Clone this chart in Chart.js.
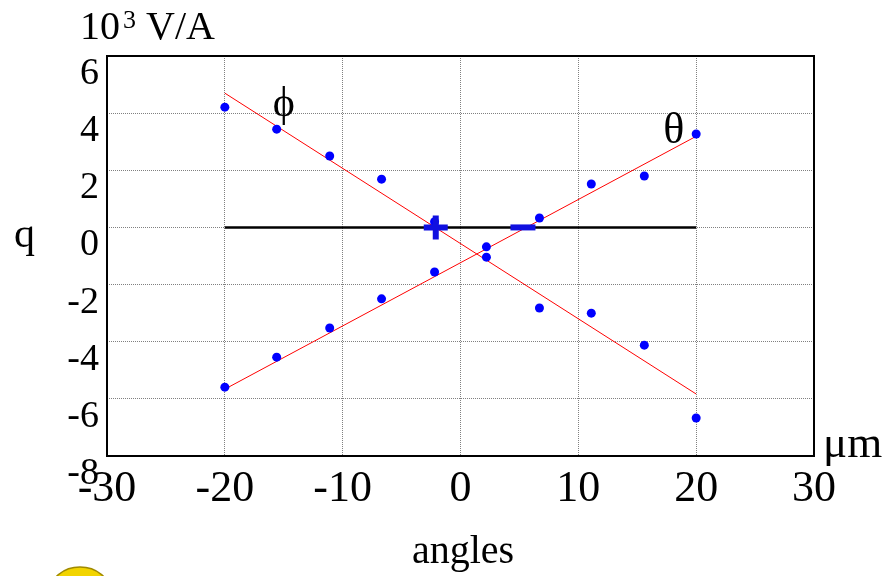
<!DOCTYPE html>
<html>
<head>
<meta charset="utf-8">
<script src="https://cdn.jsdelivr.net/npm/chart.js@4"></script>
<style>
  html, body { margin: 0; padding: 0; background: #fff; }
  #wrap { position: relative; width: 886px; height: 576px; }
</style>
</head>
<body>
<div id="wrap"><canvas id="myChart" width="886" height="576"></canvas></div>
<script>
// angle positions (um) and measured values (10^3 V/A)
const phiX = [-20, -15.6, -11.1, -6.7, -2.2, 2.2, 6.7, 11.1, 15.6, 20];
const phiY = [4.21, 3.44, 2.50, 1.69, 0.20, -1.04, -2.82, -3.00, -4.12, -6.67];
const thetaX = [-20, -15.6, -11.1, -6.7, -2.2, 2.2, 6.7, 11.1, 15.6, 20];
const thetaY = [-5.59, -4.54, -3.52, -2.50, -1.56, -0.68, 0.33, 1.52, 1.80, 3.27];

// straight-line fits, end points
const phiFitX = [-20, 20];
const phiFitY = [4.70, -5.83];
const thetaFitX = [-20, 20];
const thetaFitY = [-5.66, 3.19];

// zero reference line and the +/- markers
const zeroX = [-20, 20];
const plusX = -2.1;
const minusX = 5.3;

const xTicks = { min: -30, max: 30, step: 10 };
const yTicks = { min: -8, max: 6, step: 2 };

function pts(xs, ys) {
  return xs.map((x, i) => ({ x: x, y: ys[i] }));
}

const serif = '"Liberation Serif", "DejaVu Serif", serif';

const decorPlugin = {
  id: "decor",
  afterDraw(chart) {
    const ctx = chart.ctx;
    const a = chart.chartArea;
    const xs = chart.scales.x;
    const ys = chart.scales.y;
    ctx.save();
    // frame
    ctx.strokeStyle = "#000";
    ctx.lineWidth = 2;
    ctx.strokeRect(a.left, a.top, a.right - a.left, a.bottom - a.top);

    ctx.fillStyle = "#000";
    ctx.textBaseline = "alphabetic";
    ctx.textAlign = "left";
    // unit label top-left
    ctx.font = "40px " + serif;
    ctx.fillText("10", 80, 39);
    ctx.font = "26px " + serif;
    ctx.fillText("3", 123, 28);
    ctx.font = "40px " + serif;
    ctx.fillText("V/A", 146, 39);
    // y label
    ctx.font = "42px " + serif;
    ctx.fillText("q", 14, 247);
    // x unit
    ctx.font = "45px " + serif;
    ctx.fillText("\u03bcm", 823, 457);
    // x title
    ctx.textAlign = "center";
    ctx.font = "40px " + serif;
    ctx.fillText("angles", 463, 563);
    // series labels
    ctx.textBaseline = "middle";
    ctx.font = "42px " + serif;
    ctx.fillText("\u03d5", xs.getPixelForValue(-15.0), ys.getPixelForValue(4.3));
    ctx.font = "44px " + serif;
    ctx.fillText("\u03b8", xs.getPixelForValue(18.1), ys.getPixelForValue(3.35));

    // logo at bottom left
    ctx.beginPath();
    ctx.ellipse(80, 592, 30, 25, 0, 0, Math.PI * 2);
    ctx.fillStyle = "#f2d400";
    ctx.fill();
    ctx.strokeStyle = "#a08a00";
    ctx.lineWidth = 1.5;
    ctx.stroke();
    ctx.restore();
  }
};

const data = {
  datasets: [
    {
      label: "plus",
      data: [{ x: plusX, y: 0 }],
      pointStyle: "cross",
      pointRadius: 12,
      borderColor: "#1010e0",
      backgroundColor: "#1010e0",
      pointBorderWidth: 6,
      showLine: false
    },
    {
      label: "minus",
      data: [{ x: minusX, y: 0 }],
      pointStyle: "line",
      pointRadius: 12.5,
      borderColor: "#1010e0",
      backgroundColor: "#1010e0",
      pointBorderWidth: 6,
      showLine: false
    },
    {
      label: "phi",
      data: pts(phiX, phiY),
      pointRadius: 4.5,
      borderWidth: 0,
      backgroundColor: "#0000ff",
      borderColor: "#0000ff",
      showLine: false
    },
    {
      label: "theta",
      data: pts(thetaX, thetaY),
      pointRadius: 4.5,
      borderWidth: 0,
      backgroundColor: "#0000ff",
      borderColor: "#0000ff",
      showLine: false
    },
    {
      label: "phi fit",
      data: pts(phiFitX, phiFitY),
      showLine: true,
      pointRadius: 0,
      borderColor: "#ff0000",
      borderWidth: 1
    },
    {
      label: "theta fit",
      data: pts(thetaFitX, thetaFitY),
      showLine: true,
      pointRadius: 0,
      borderColor: "#ff0000",
      borderWidth: 1
    },
    {
      label: "zero",
      data: pts(zeroX, [0, 0]),
      showLine: true,
      pointRadius: 0,
      borderColor: "#000",
      borderWidth: 2.5
    }
  ]
};

const config = {
  type: "scatter",
  data,
  options: {
    responsive: false,
    animation: false,
    events: [],
    layout: { padding: { left: 0, top: 56, right: 72, bottom: 0 } },
    plugins: { legend: { display: false }, tooltip: { enabled: false } },
    scales: {
      x: {
        min: xTicks.min,
        max: xTicks.max,
        afterFit(scale) { scale.height = 120; },
        ticks: {
          stepSize: xTicks.step,
          color: "#000",
          padding: 7,
          maxRotation: 0,
          font: { family: serif, size: 44 },
          callback: (v) => String(v)
        },
        grid: { color: "#808080", lineWidth: 1, drawTicks: false },
        border: { display: false, dash: [1, 1] }
      },
      y: {
        min: yTicks.min,
        max: yTicks.max,
        afterFit(scale) { scale.width = 107; },
        ticks: {
          stepSize: yTicks.step,
          color: "#000",
          padding: 8,
          labelOffset: 18,
          font: { family: serif, size: 38 },
          callback: (v) => String(v)
        },
        grid: { color: "#808080", lineWidth: 1, drawTicks: false },
        border: { display: false, dash: [1, 1] }
      }
    }
  },
  plugins: [decorPlugin]
};

const myChart = new Chart(document.getElementById("myChart"), config);
</script>
</body>
</html>
